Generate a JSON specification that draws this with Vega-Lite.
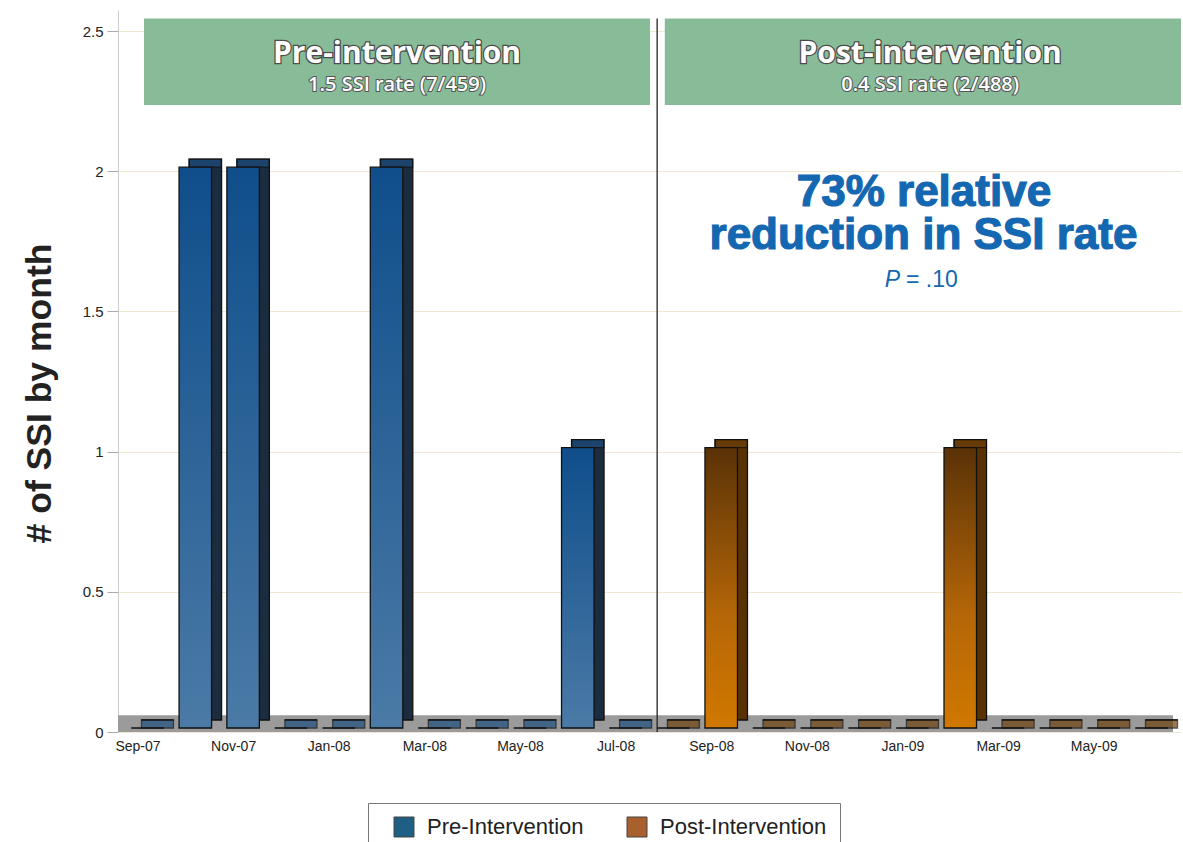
{
"$schema":"https://vega.github.io/schema/vega-lite/v6.json",
"width":1063,"height":722,
"autosize":{"type":"none"},
"padding":{"left":118,"top":10,"right":2,"bottom":110},
"background":"#ffffff",
"config":{"view":{"fill":"#fdf9ec","stroke":null},"font":"Liberation Sans",
 "axisY":{"labelFontSize":15,"labelFont":"Liberation Sans","labelColor":"#222222","tickColor":"#aaaaaa","tickSize":11,"domainColor":"#cccccc","grid":true,"gridColor":"#f0e9d2","labelPadding":4,"titleFontSize":35.5,"titleFont":"Liberation Sans","titleFontWeight":"bold","titleColor":"#222222","titleX":-79,"titleY":383,"titleAngle":-90,"titleAlign":"center","titleBaseline":"middle"},
 "axisX":{"labelAngle":0,"labelFontSize":14,"labelFont":"Liberation Sans","labelColor":"#222222","ticks":false,"domain":false,"grid":false,"labelOffset":-9.5,"labelPadding":7}},
"datasets":{
 "bars":[
  {"m":"Sep-07","v":0,"g":"Pre-Intervention"},
  {"m":"Oct-07","v":2,"g":"Pre-Intervention"},
  {"m":"Nov-07","v":2,"g":"Pre-Intervention"},
  {"m":"Dec-07","v":0,"g":"Pre-Intervention"},
  {"m":"Jan-08","v":0,"g":"Pre-Intervention"},
  {"m":"Feb-08","v":2,"g":"Pre-Intervention"},
  {"m":"Mar-08","v":0,"g":"Pre-Intervention"},
  {"m":"Apr-08","v":0,"g":"Pre-Intervention"},
  {"m":"May-08","v":0,"g":"Pre-Intervention"},
  {"m":"Jun-08","v":1,"g":"Pre-Intervention"},
  {"m":"Jul-08","v":0,"g":"Pre-Intervention"},
  {"m":"Aug-08","v":0,"g":"Post-Intervention"},
  {"m":"Sep-08","v":1,"g":"Post-Intervention"},
  {"m":"Oct-08","v":0,"g":"Post-Intervention"},
  {"m":"Nov-08","v":0,"g":"Post-Intervention"},
  {"m":"Dec-08","v":0,"g":"Post-Intervention"},
  {"m":"Jan-09","v":0,"g":"Post-Intervention"},
  {"m":"Feb-09","v":1,"g":"Post-Intervention"},
  {"m":"Mar-09","v":0,"g":"Post-Intervention"},
  {"m":"Apr-09","v":0,"g":"Post-Intervention"},
  {"m":"May-09","v":0,"g":"Post-Intervention"},
  {"m":"Jun-09","v":0,"g":"Post-Intervention"}
 ],
 "floor":[{"x":-0.617,"x2":21.45,"y":0,"y2":0.06}],
 "boxes":[{"x":-0.073,"x2":10.51,"y":2.236,"y2":2.545},{"x":10.82,"x2":21.617,"y":2.236,"y2":2.545}],
 "heads":[
  {"x":5.22,"y":2.386,"t":"Pre-intervention","k":"title"},
  {"x":5.22,"y":2.286,"t":"1.5 SSI rate (7/459)","k":"sub"},
  {"x":16.37,"y":2.386,"t":"Post-intervention","k":"title"},
  {"x":16.37,"y":2.286,"t":"0.4 SSI rate (2/488)","k":"sub"}
 ],
 "divider":[{"x":10.66,"y":0,"y2":2.545}],
 "notes":[{"x":16.24,"y":1.876,"t":"73% relative"},{"x":16.23,"y":1.7225,"t":"reduction in SSI rate"}],
 "pval":[{"x":15.74,"y":1.587,"p":"P","r":"= .10"}]
},
"resolve":{"scale":{"x":"independent"},"axis":{"x":"independent"}},
"layer":[
 {"layer":[
  {"data":{"name":"floor"},"mark":{"type":"rect","fill":"#9b9b9b"},
   "encoding":{
    "x":{"field":"x","type":"quantitative","scale":{"domain":[-0.617,21.617],"nice":false,"zero":false},"axis":null},
    "x2":{"field":"x2"},
    "y":{"field":"y","type":"quantitative","scale":{"domain":[0,2.575],"nice":false,"zero":false},"axis":{"title":"# of SSI by month","values":[0,0.5,1,1.5,2,2.5],"format":"~g"}},
    "y2":{"field":"y2"}}},
  {"data":{"name":"boxes"},"mark":{"type":"rect","fill":"#88bb98"},
   "encoding":{
    "x":{"field":"x","type":"quantitative","scale":{"domain":[-0.617,21.617],"nice":false,"zero":false},"axis":null},
    "x2":{"field":"x2"},
    "y":{"field":"y","type":"quantitative","scale":{"domain":[0,2.575],"nice":false,"zero":false},"axis":{"title":"# of SSI by month","values":[0,0.5,1,1.5,2,2.5],"format":"~g"}},
    "y2":{"field":"y2"}}},
  {"data":{"name":"heads"},"transform":[{"filter":"datum.k === 'title'"}],
   "mark":{"type":"text","font":"Open Sans","fontWeight":"bold","fontSize":30,"fill":"#4a4a4a","stroke":"#4a4a4a","strokeWidth":2.5,"align":"center","baseline":"alphabetic"},
   "encoding":{
    "x":{"field":"x","type":"quantitative","scale":{"domain":[-0.617,21.617],"nice":false,"zero":false},"axis":null},
    "y":{"field":"y","type":"quantitative","scale":{"domain":[0,2.575],"nice":false,"zero":false},"axis":{"title":"# of SSI by month","values":[0,0.5,1,1.5,2,2.5],"format":"~g"}},
    "text":{"field":"t"}}},
  {"data":{"name":"heads"},"transform":[{"filter":"datum.k === 'title'"}],
   "mark":{"type":"text","font":"Open Sans","fontWeight":"bold","fontSize":30,"fill":"#ffffff","align":"center","baseline":"alphabetic"},
   "encoding":{
    "x":{"field":"x","type":"quantitative","scale":{"domain":[-0.617,21.617],"nice":false,"zero":false},"axis":null},
    "y":{"field":"y","type":"quantitative","scale":{"domain":[0,2.575],"nice":false,"zero":false},"axis":{"title":"# of SSI by month","values":[0,0.5,1,1.5,2,2.5],"format":"~g"}},
    "text":{"field":"t"}}},
  {"data":{"name":"heads"},"transform":[{"filter":"datum.k === 'sub'"}],
   "mark":{"type":"text","font":"Open Sans","fontWeight":600,"fontSize":20,"fill":"#555555","stroke":"#555555","strokeWidth":2,"align":"center","baseline":"alphabetic"},
   "encoding":{
    "x":{"field":"x","type":"quantitative","scale":{"domain":[-0.617,21.617],"nice":false,"zero":false},"axis":null},
    "y":{"field":"y","type":"quantitative","scale":{"domain":[0,2.575],"nice":false,"zero":false},"axis":{"title":"# of SSI by month","values":[0,0.5,1,1.5,2,2.5],"format":"~g"}},
    "text":{"field":"t"}}},
  {"data":{"name":"heads"},"transform":[{"filter":"datum.k === 'sub'"}],
   "mark":{"type":"text","font":"Open Sans","fontWeight":600,"fontSize":20,"fill":"#ffffff","align":"center","baseline":"alphabetic"},
   "encoding":{
    "x":{"field":"x","type":"quantitative","scale":{"domain":[-0.617,21.617],"nice":false,"zero":false},"axis":null},
    "y":{"field":"y","type":"quantitative","scale":{"domain":[0,2.575],"nice":false,"zero":false},"axis":{"title":"# of SSI by month","values":[0,0.5,1,1.5,2,2.5],"format":"~g"}},
    "text":{"field":"t"}}},
  {"data":{"name":"divider"},"mark":{"type":"rule","color":"#222222","strokeWidth":1.3},
   "encoding":{
    "x":{"field":"x","type":"quantitative","scale":{"domain":[-0.617,21.617],"nice":false,"zero":false},"axis":null},
    "y":{"field":"y","type":"quantitative","scale":{"domain":[0,2.575],"nice":false,"zero":false},"axis":{"title":"# of SSI by month","values":[0,0.5,1,1.5,2,2.5],"format":"~g"}},
    "y2":{"field":"y2"}}},
  {"data":{"name":"notes"},
   "mark":{"type":"text","font":"Liberation Sans","fontWeight":"bold","fontSize":44,"fill":"#1467b1","stroke":"#1467b1","strokeWidth":1.2,"align":"center","baseline":"alphabetic"},
   "encoding":{
    "x":{"field":"x","type":"quantitative","scale":{"domain":[-0.617,21.617],"nice":false,"zero":false},"axis":null},
    "y":{"field":"y","type":"quantitative","scale":{"domain":[0,2.575],"nice":false,"zero":false},"axis":{"title":"# of SSI by month","values":[0,0.5,1,1.5,2,2.5],"format":"~g"}},
    "text":{"field":"t"}}},
  {"data":{"name":"pval"},
   "mark":{"type":"text","font":"Liberation Sans","fontStyle":"italic","fontSize":23,"fill":"#1467b1","align":"right","baseline":"alphabetic"},
   "encoding":{
    "x":{"field":"x","type":"quantitative","scale":{"domain":[-0.617,21.617],"nice":false,"zero":false},"axis":null},
    "y":{"field":"y","type":"quantitative","scale":{"domain":[0,2.575],"nice":false,"zero":false},"axis":{"title":"# of SSI by month","values":[0,0.5,1,1.5,2,2.5],"format":"~g"}},
    "text":{"field":"p"}}},
  {"data":{"name":"pval"},
   "mark":{"type":"text","font":"Liberation Sans","fontSize":23,"fill":"#1467b1","align":"left","baseline":"alphabetic","dx":6},
   "encoding":{
    "x":{"field":"x","type":"quantitative","scale":{"domain":[-0.617,21.617],"nice":false,"zero":false},"axis":null},
    "y":{"field":"y","type":"quantitative","scale":{"domain":[0,2.575],"nice":false,"zero":false},"axis":{"title":"# of SSI by month","values":[0,0.5,1,1.5,2,2.5],"format":"~g"}},
    "text":{"field":"r"}}}
 ]},
 {"data":{"name":"bars"},
  "layer":[
  {"mark":{"type":"bar","xOffset":10,"yOffset":-12,"stroke":"#111111","strokeWidth":1.3},
   "encoding":{
    "x":{"field":"m","type":"ordinal","sort":null,"scale":{"type":"band","domain":["Sep-07","Oct-07","Nov-07","Dec-07","Jan-08","Feb-08","Mar-08","Apr-08","May-08","Jun-08","Jul-08","Aug-08","Sep-08","Oct-08","Nov-08","Dec-08","Jan-09","Feb-09","Mar-09","Apr-09","May-09","Jun-09"],"paddingInner":0.32,"paddingOuter":0.277},"axis":{"title":null,"values":["Sep-07","Nov-07","Jan-08","Mar-08","May-08","Jul-08","Sep-08","Nov-08","Jan-09","Mar-09","May-09"]}},
    "y":{"field":"v","type":"quantitative","scale":{"domain":[0,2.575],"nice":false,"zero":false},"axis":{"title":"# of SSI by month","values":[0,0.5,1,1.5,2,2.5],"format":"~g"}},
    "fill":{"condition":{"test":"datum.g === 'Pre-Intervention'","value":"#1c2c3f"},"value":"#583105"}}},
  {"mark":{"type":"tick","xOffset":10,"yOffset":-8,"thickness":8,"size":32,"stroke":"#111111","strokeWidth":1.3},
   "encoding":{
    "x":{"field":"m","type":"ordinal","sort":null,"scale":{"type":"band","domain":["Sep-07","Oct-07","Nov-07","Dec-07","Jan-08","Feb-08","Mar-08","Apr-08","May-08","Jun-08","Jul-08","Aug-08","Sep-08","Oct-08","Nov-08","Dec-08","Jan-09","Feb-09","Mar-09","Apr-09","May-09","Jun-09"],"paddingInner":0.32,"paddingOuter":0.277},"axis":{"title":null,"values":["Sep-07","Nov-07","Jan-08","Mar-08","May-08","Jul-08","Sep-08","Nov-08","Jan-09","Mar-09","May-09"]}},
    "y":{"field":"v","type":"quantitative","scale":{"domain":[0,2.575],"nice":false,"zero":false},"axis":{"title":"# of SSI by month","values":[0,0.5,1,1.5,2,2.5],"format":"~g"}},
    "fill":{"condition":{"test":"datum.g === 'Pre-Intervention'","value":"#1d4e7e"},"value":"#6e400a"}}},
  {"transform":[{"filter":"datum.g === 'Pre-Intervention'"}],
   "mark":{"type":"bar","yOffset":-4,"stroke":"#111111","strokeWidth":1.3,
    "fill":{"gradient":"linear","x1":0,"y1":0,"x2":0,"y2":1,"stops":[{"offset":0,"color":"#0f4e8b"},{"offset":1,"color":"#4b7aa6"}]}},
   "encoding":{
    "x":{"field":"m","type":"ordinal","sort":null,"scale":{"type":"band","domain":["Sep-07","Oct-07","Nov-07","Dec-07","Jan-08","Feb-08","Mar-08","Apr-08","May-08","Jun-08","Jul-08","Aug-08","Sep-08","Oct-08","Nov-08","Dec-08","Jan-09","Feb-09","Mar-09","Apr-09","May-09","Jun-09"],"paddingInner":0.32,"paddingOuter":0.277},"axis":{"title":null,"values":["Sep-07","Nov-07","Jan-08","Mar-08","May-08","Jul-08","Sep-08","Nov-08","Jan-09","Mar-09","May-09"]}},
    "y":{"field":"v","type":"quantitative","scale":{"domain":[0,2.575],"nice":false,"zero":false},"axis":{"title":"# of SSI by month","values":[0,0.5,1,1.5,2,2.5],"format":"~g"}}}},
  {"transform":[{"filter":"datum.g === 'Post-Intervention'"}],
   "mark":{"type":"bar","yOffset":-4,"stroke":"#111111","strokeWidth":1.3,
    "fill":{"gradient":"linear","x1":0,"y1":0,"x2":0,"y2":1,"stops":[{"offset":0,"color":"#5a3207"},{"offset":0.6,"color":"#b56607"},{"offset":1,"color":"#d07800"}]}},
   "encoding":{
    "x":{"field":"m","type":"ordinal","sort":null,"scale":{"type":"band","domain":["Sep-07","Oct-07","Nov-07","Dec-07","Jan-08","Feb-08","Mar-08","Apr-08","May-08","Jun-08","Jul-08","Aug-08","Sep-08","Oct-08","Nov-08","Dec-08","Jan-09","Feb-09","Mar-09","Apr-09","May-09","Jun-09"],"paddingInner":0.32,"paddingOuter":0.277},"axis":{"title":null,"values":["Sep-07","Nov-07","Jan-08","Mar-08","May-08","Jul-08","Sep-08","Nov-08","Jan-09","Mar-09","May-09"]}},
    "y":{"field":"v","type":"quantitative","scale":{"domain":[0,2.575],"nice":false,"zero":false},"axis":{"title":"# of SSI by month","values":[0,0.5,1,1.5,2,2.5],"format":"~g"}}}}
 ]},
 {"data":{"name":"bars"},"transform":[{"filter":"false"}],
  "mark":{"type":"square"},
  "encoding":{
   "fill":{"field":"g","type":"nominal","scale":{"domain":["Pre-Intervention","Post-Intervention"],"range":["#1f5f84","#a8612e"]},
    "legend":{"title":null,"orient":"none","legendX":250,"legendY":793,"direction":"horizontal","symbolType":"square","symbolSize":400,"symbolOffset":12,"labelOffset":12,"columnPadding":30,"padding":13,"labelFontSize":22,"labelFont":"Liberation Sans","labelColor":"#222222","labelLimit":400,"strokeColor":"#777777","fillColor":"#ffffff","symbolStrokeWidth":1,"symbolStrokeColor":"#444444","symbolOpacity":1}}}}
]
}
